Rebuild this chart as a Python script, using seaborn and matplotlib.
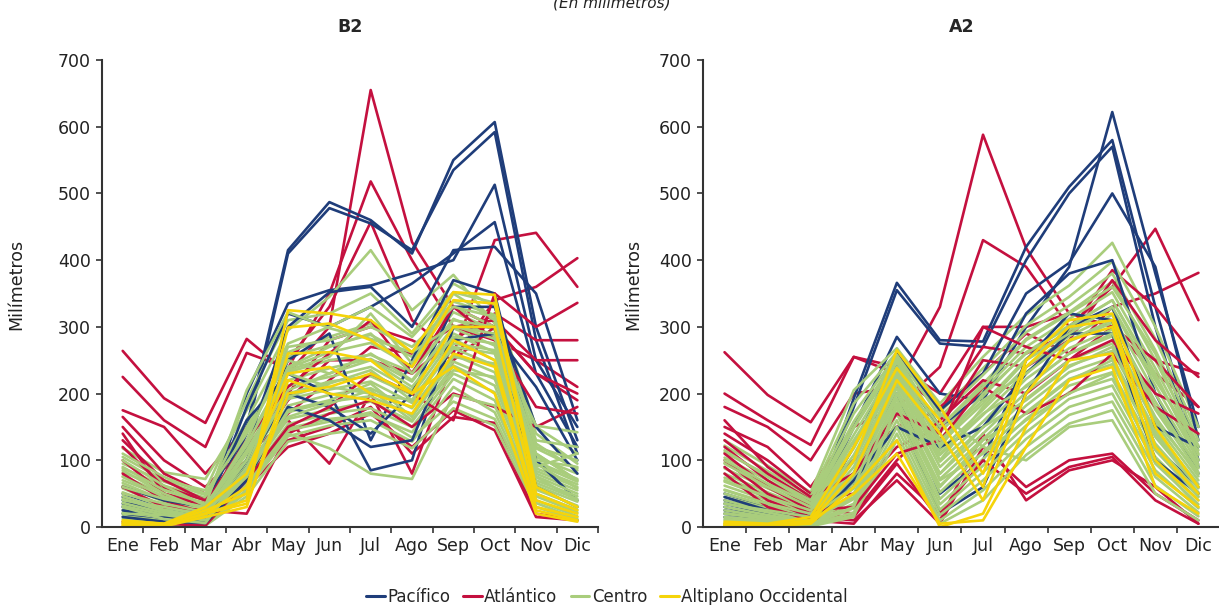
import numpy as np
import pandas as pd
import matplotlib
matplotlib.use("Agg")
import matplotlib.pyplot as plt
import seaborn as sns
from matplotlib.lines import Line2D

meses = ["Ene", "Feb", "Mar", "Abr", "May", "Jun", "Jul", "Ago", "Sep", "Oct", "Nov", "Dic"]
regiones = ["Pacífico", "Atlántico", "Centro", "Altiplano Occidental"]
colores = ["#1f3d7a", "#c4103f", "#a9cd7c", "#f5d40a"]

# ---------------- Escenario B2 ----------------
b2_pacifico = [
    [40, 20, 15, 150, 415, 487, 460, 410, 550, 607, 300, 130],
    [35, 15, 10, 140, 410, 478, 455, 415, 535, 592, 280, 110],
    [50, 30, 25, 200, 335, 355, 362, 380, 400, 513, 250, 150],
    [45, 25, 20, 180, 320, 300, 330, 365, 410, 457, 230, 120],
    [30, 20, 15, 120, 300, 352, 360, 300, 415, 420, 350, 160],
    [20, 10, 5, 100, 250, 290, 130, 250, 370, 350, 100, 40],
    [60, 40, 30, 160, 230, 200, 85, 100, 300, 300, 60, 30],
    [25, 15, 10, 90, 200, 180, 140, 200, 330, 330, 150, 80],
    [15, 8, 6, 70, 180, 160, 120, 130, 280, 290, 210, 100],
]
b2_atlantico = [
    [264, 193, 156, 282, 230, 300, 655, 427, 330, 300, 230, 190],
    [225, 160, 120, 261, 238, 350, 518, 400, 300, 280, 250, 210],
    [175, 150, 80, 150, 250, 330, 457, 310, 260, 430, 441, 360],
    [165, 100, 60, 120, 200, 280, 300, 280, 250, 340, 360, 403],
    [150, 80, 50, 100, 190, 250, 250, 230, 280, 320, 280, 280],
    [130, 70, 40, 90, 170, 220, 270, 260, 300, 310, 250, 250],
    [120, 60, 40, 110, 160, 95, 200, 80, 250, 300, 230, 200],
    [100, 50, 30, 80, 130, 150, 180, 110, 165, 156, 20, 10],
    [80, 40, 20, 60, 120, 140, 170, 120, 175, 145, 15, 10],
    [60, 30, 25, 20, 140, 170, 190, 150, 200, 180, 150, 180],
    [140, 50, 35, 130, 210, 260, 310, 230, 330, 280, 180, 170],
    [8, 5, 2, 70, 150, 180, 230, 200, 160, 350, 300, 336],
]
b2_centro = [
    [118, 82, 72, 175, 295, 345, 415, 325, 378, 305, 125, 85],
    [105, 70, 55, 190, 310, 320, 350, 290, 365, 330, 140, 95],
    [95, 68, 48, 160, 275, 300, 330, 285, 352, 336, 150, 110],
    [88, 62, 44, 145, 262, 285, 305, 262, 338, 318, 118, 88],
    [82, 58, 40, 150, 255, 272, 288, 255, 330, 300, 105, 80],
    [76, 50, 36, 128, 238, 262, 276, 240, 322, 295, 98, 72],
    [70, 46, 33, 122, 232, 250, 258, 232, 312, 285, 95, 68],
    [66, 40, 28, 115, 220, 238, 252, 218, 298, 272, 88, 64],
    [62, 38, 24, 102, 212, 225, 240, 205, 290, 262, 84, 60],
    [58, 32, 20, 98, 200, 218, 226, 198, 282, 250, 80, 55],
    [52, 30, 17, 92, 192, 206, 218, 186, 268, 242, 76, 50],
    [46, 26, 14, 84, 182, 198, 208, 178, 258, 232, 70, 46],
    [42, 24, 12, 80, 172, 188, 196, 168, 248, 222, 66, 42],
    [36, 21, 10, 76, 162, 176, 188, 158, 242, 212, 62, 38],
    [32, 18, 8, 70, 154, 170, 178, 150, 230, 202, 56, 32],
    [26, 16, 6, 64, 148, 162, 168, 142, 222, 190, 50, 26],
    [22, 14, 5, 62, 140, 118, 80, 72, 198, 182, 46, 22],
    [16, 10, 4, 56, 136, 152, 160, 128, 210, 172, 40, 16],
    [12, 8, 3, 52, 145, 158, 172, 134, 188, 162, 36, 12],
    [100, 62, 32, 205, 322, 298, 282, 262, 302, 282, 152, 142],
    [6, 4, 2, 46, 128, 140, 148, 118, 178, 152, 30, 10],
    [75, 45, 28, 125, 235, 255, 320, 245, 350, 310, 100, 90],
    [110, 75, 50, 140, 250, 230, 260, 220, 300, 290, 110, 70],
    [90, 55, 35, 110, 230, 210, 200, 190, 270, 260, 90, 110],
    [60, 42, 30, 130, 270, 280, 300, 270, 330, 315, 130, 120],
    [40, 30, 18, 100, 240, 270, 290, 230, 310, 300, 120, 100],
    [20, 18, 10, 90, 205, 230, 250, 210, 285, 275, 110, 70],
    [85, 50, 25, 75, 175, 190, 215, 165, 255, 245, 75, 40],
    [50, 35, 22, 110, 195, 215, 235, 190, 275, 265, 95, 58],
    [30, 12, 6, 85, 165, 185, 205, 160, 235, 225, 60, 30],
]
b2_altiplano = [
    [5, 2, 20, 40, 325, 320, 310, 262, 352, 348, 60, 30],
    [8, 5, 25, 50, 299, 305, 280, 240, 340, 335, 50, 25],
    [3, 2, 20, 60, 260, 262, 250, 200, 300, 300, 40, 20],
    [10, 5, 30, 80, 230, 240, 200, 180, 280, 250, 30, 15],
    [2, 1, 15, 30, 220, 200, 190, 170, 260, 240, 25, 10],
    [5, 3, 20, 35, 200, 210, 230, 200, 240, 200, 20, 8],
]

# ---------------- Escenario A2 ----------------
a2_pacifico = [
    [30, 15, 10, 193, 366, 280, 278, 420, 510, 580, 330, 100],
    [25, 12, 8, 180, 355, 275, 270, 400, 500, 570, 300, 90],
    [40, 20, 15, 150, 285, 200, 190, 300, 390, 622, 380, 150],
    [35, 20, 10, 120, 260, 175, 230, 350, 396, 500, 390, 130],
    [50, 30, 20, 100, 240, 150, 200, 320, 380, 400, 200, 80],
    [20, 10, 5, 80, 200, 50, 100, 250, 320, 310, 120, 60],
    [45, 25, 15, 60, 180, 20, 60, 200, 300, 330, 150, 120],
    [15, 8, 3, 70, 150, 120, 150, 230, 290, 290, 100, 50],
]
a2_atlantico = [
    [262, 198, 157, 255, 240, 200, 300, 300, 320, 300, 250, 230],
    [200, 160, 123, 255, 230, 180, 230, 290, 260, 330, 350, 381],
    [180, 150, 100, 200, 210, 330, 588, 418, 320, 300, 230, 180],
    [150, 120, 60, 150, 180, 240, 430, 390, 300, 360, 447, 310],
    [140, 100, 50, 100, 150, 175, 270, 260, 290, 385, 330, 250],
    [130, 80, 40, 50, 120, 150, 250, 240, 280, 370, 280, 225],
    [120, 70, 30, 20, 100, 160, 220, 200, 250, 300, 250, 180],
    [100, 50, 20, 15, 95, 10, 140, 40, 85, 100, 60, 5],
    [90, 40, 15, 10, 70, 5, 120, 60, 100, 110, 50, 10],
    [80, 30, 10, 5, 80, 20, 100, 50, 90, 105, 40, 5],
    [160, 90, 45, 80, 170, 140, 300, 270, 250, 280, 200, 170],
    [110, 60, 25, 30, 110, 130, 210, 170, 200, 260, 180, 140],
]
a2_centro = [
    [130, 92, 52, 205, 268, 185, 255, 318, 362, 426, 300, 150],
    [122, 84, 46, 185, 262, 172, 238, 302, 345, 398, 282, 138],
    [112, 78, 42, 170, 258, 165, 228, 292, 332, 380, 265, 130],
    [104, 70, 38, 158, 255, 150, 215, 282, 322, 368, 250, 122],
    [96, 64, 34, 148, 250, 142, 205, 270, 312, 352, 238, 115],
    [88, 58, 30, 138, 245, 132, 196, 262, 302, 340, 225, 108],
    [80, 52, 27, 128, 240, 125, 185, 252, 295, 328, 212, 100],
    [74, 48, 24, 118, 235, 115, 176, 240, 286, 318, 200, 94],
    [68, 44, 21, 108, 228, 108, 168, 232, 278, 306, 188, 88],
    [62, 40, 18, 98, 222, 98, 158, 222, 268, 296, 176, 82],
    [56, 36, 16, 90, 215, 90, 150, 212, 260, 286, 165, 76],
    [50, 32, 14, 82, 208, 80, 140, 202, 250, 275, 155, 70],
    [45, 28, 12, 74, 200, 72, 132, 192, 242, 264, 145, 64],
    [40, 25, 10, 66, 192, 62, 122, 182, 232, 254, 135, 58],
    [35, 22, 8, 58, 185, 52, 112, 172, 222, 244, 125, 52],
    [30, 18, 7, 50, 178, 42, 102, 162, 212, 232, 115, 46],
    [25, 15, 6, 42, 170, 34, 92, 152, 202, 222, 105, 40],
    [20, 12, 5, 35, 160, 26, 82, 142, 192, 212, 95, 34],
    [15, 10, 4, 28, 150, 18, 70, 132, 180, 200, 85, 28],
    [10, 7, 3, 22, 140, 10, 55, 120, 168, 188, 75, 22],
    [6, 4, 2, 18, 130, 5, 40, 108, 155, 175, 62, 16],
    [3, 2, 1, 15, 185, 170, 120, 100, 150, 160, 50, 10],
    [115, 75, 40, 150, 255, 120, 200, 260, 300, 340, 230, 100],
    [95, 60, 30, 120, 250, 100, 180, 250, 290, 330, 220, 120],
    [70, 45, 25, 100, 240, 150, 210, 280, 320, 360, 260, 110],
    [55, 35, 20, 80, 230, 130, 190, 230, 280, 310, 180, 90],
    [35, 25, 15, 60, 215, 110, 170, 210, 260, 290, 160, 80],
    [20, 15, 10, 45, 200, 80, 150, 190, 240, 270, 140, 60],
    [12, 8, 5, 30, 180, 60, 130, 170, 220, 250, 120, 45],
    [100, 65, 35, 130, 225, 70, 110, 160, 200, 230, 100, 30],
]
a2_altiplano = [
    [5, 3, 10, 100, 265, 180, 80, 250, 310, 320, 150, 60],
    [8, 5, 15, 120, 238, 160, 60, 240, 300, 310, 120, 50],
    [3, 2, 8, 80, 220, 140, 40, 200, 280, 300, 100, 40],
    [2, 1, 5, 60, 130, 0, 20, 150, 250, 260, 80, 30],
    [5, 2, 10, 50, 110, 5, 10, 120, 220, 240, 60, 20],
]


def to_frame(pac, atl, cen, alt):
    rows = []
    for reg, series in zip(regiones, [pac, atl, cen, alt]):
        for k, vals in enumerate(series):
            for m, v in enumerate(vals):
                rows.append({"region": reg, "linea": f"{reg}-{k}", "mes": m, "valor": v})
    return pd.DataFrame(rows)


def draw_order(df):
    ids = {r: list(dict.fromkeys(df.loc[df.region == r, "linea"])) for r in regiones}
    order = []
    pac, atl, cen, alt = (ids[r][:] for r in regiones)
    order += atl[:4] + pac[:3]
    atl, pac = atl[4:], pac[3:]
    i = 0
    while cen or atl or pac:
        if cen:
            order.append(cen.pop(0))
        if i % 3 == 0 and atl:
            order.append(atl.pop(0))
        if i % 4 == 1 and pac:
            order.append(pac.pop(0))
        i += 1
    order += alt
    return order


sns.set_theme(style="ticks")
plt.rcParams["font.family"] = ["DejaVu Sans"]

fig = plt.figure(figsize=(12.19, 6.05), dpi=100)
ax1 = fig.add_axes([0.0837, 0.1289, 0.4069, 0.7719])
ax2 = fig.add_axes([0.5767, 0.1289, 0.4241, 0.7719])

paleta = dict(zip(regiones, colores))
paneles = [
    (ax1, "B2", to_frame(b2_pacifico, b2_atlantico, b2_centro, b2_altiplano), -0.155),
    (ax2, "A2", to_frame(a2_pacifico, a2_atlantico, a2_centro, a2_altiplano), -0.118),
]

for ax, titulo, df, ylx in paneles:
    for lid in draw_order(df):
        sub = df[df.linea == lid]
        sns.lineplot(data=sub, x="mes", y="valor", color=paleta[sub.region.iloc[0]],
                     linewidth=1.9, ax=ax, legend=False, estimator=None)
    ax.set_xlim(-0.5, 11.5)
    ax.set_ylim(0, 700)
    ax.set_yticks(range(0, 701, 100))
    ax.set_xticks(range(12))
    ax.set_xticklabels(meses)
    ax.set_xticks(np.arange(0.5, 12, 1), minor=True)
    ax.tick_params(axis="x", which="major", length=0, pad=7, labelsize=12.5, labelcolor="#222222")
    ax.tick_params(axis="x", which="minor", length=4, width=1.2, color="#333333")
    ax.tick_params(axis="y", length=4, width=1.2, color="#333333", labelsize=12.5, labelcolor="#222222", pad=4)
    sns.despine(ax=ax)
    for s in ["left", "bottom"]:
        ax.spines[s].set_color("#333333")
        ax.spines[s].set_linewidth(1.5)
    ax.set_xlabel("")
    ax.set_ylabel("Milímetros", fontsize=12.5, color="#222222")
    ax.yaxis.set_label_coords(ylx, 0.52)
    ax.set_title(titulo, fontsize=12.5, fontweight="bold", pad=20)

fig.text(0.502, 0.987, "(En milímetros)", fontsize=11, style="italic", ha="center", va="baseline", color="#222222")

handles = [Line2D([0], [0], color=c, lw=2.2) for c in colores]
fig.legend(handles, regiones, loc="center", bbox_to_anchor=(0.498, 0.014), ncol=4, frameon=False,
           handlelength=1.1, handletextpad=0.15, columnspacing=0.8, fontsize=12, borderaxespad=0)

fig.savefig("out.png", dpi=100, facecolor="white")
